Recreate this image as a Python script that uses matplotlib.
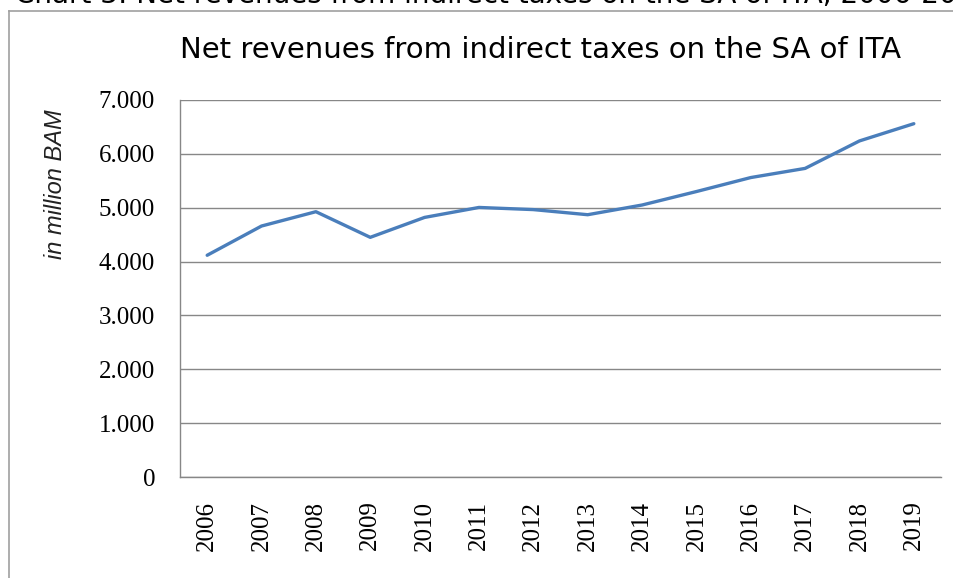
import matplotlib
matplotlib.use("Agg")
import matplotlib.pyplot as plt
from matplotlib.lines import Line2D
from matplotlib.ticker import FuncFormatter

# Net revenues from indirect taxes, million BAM
years = ["2006", "2007", "2008", "2009", "2010", "2011", "2012",
         "2013", "2014", "2015", "2016", "2017", "2018", "2019"]
revenues = [4117, 4660, 4926, 4450, 4820, 5005, 4965,
            4870, 5050, 5300, 5560, 5730, 6240, 6560]
y_ticks = [0, 1000, 2000, 3000, 4000, 5000, 6000, 7000]

W, H = 954, 578
fig = plt.figure(figsize=(W / 100, H / 100), dpi=100)

# caption above the chart box, runs past the top and right edges
fig.text(15 / W, 1 - 3 / H, "Chart 3: Net revenues from indirect taxes on the SA of ITA, 2006-2019",
         fontsize=20, family="DejaVu Sans", va="baseline", ha="left", color="black")

# chart box border (left and top only visible)
fig.add_artist(Line2D([9 / W, 9 / W], [0, 1 - 11 / H], transform=fig.transFigure,
                      color="#a0a0a0", lw=1.2))
fig.add_artist(Line2D([9 / W, 1], [1 - 11 / H, 1 - 11 / H], transform=fig.transFigure,
                      color="#a0a0a0", lw=1.2))

ax = fig.add_axes([180 / W, 1 - 477 / H, (941 - 180) / W, (477 - 100) / H])
x = list(range(len(years)))
ax.plot(x, revenues, color="#4a7ebb", lw=2.4, solid_capstyle="round", solid_joinstyle="round")

ax.set_xlim(-0.5, len(years) - 0.5)
ax.set_ylim(0, 7000)
ax.set_yticks(y_ticks)
ax.yaxis.set_major_formatter(FuncFormatter(lambda v, p: f"{int(v):,}".replace(",", ".")))
ax.set_xticks(x)
ax.set_xticklabels(years, rotation=90)

ax.grid(axis="y", color="#878787", lw=1.0)
ax.set_axisbelow(True)
for side in ["top", "right"]:
    ax.spines[side].set_visible(False)
for side in ["left", "bottom"]:
    ax.spines[side].set_color("#878787")
    ax.spines[side].set_linewidth(1.0)

ax.tick_params(axis="both", length=0, labelsize=18)
ax.tick_params(axis="y", pad=18)
ax.tick_params(axis="x", pad=17)
for lbl in ax.get_xticklabels() + ax.get_yticklabels():
    lbl.set_family("Liberation Serif")

fig.text(541 / W, 1 - 58 / H, "Net revenues from indirect taxes on the SA of ITA",
         fontsize=21, family="DejaVu Sans", ha="center", va="baseline")
fig.text(56 / W, 1 - 184 / H, "in million BAM", fontsize=17, family="Liberation Sans",
         style="italic", rotation=90, ha="center", va="center", color="#222222")

fig.savefig("out.png", dpi=100)
